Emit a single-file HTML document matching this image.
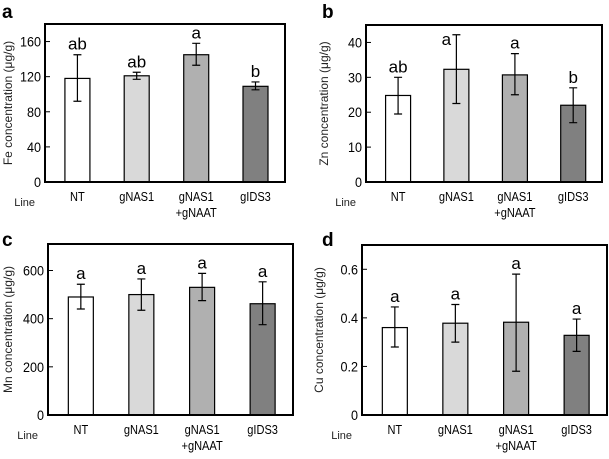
<!DOCTYPE html>
<html><head><meta charset="utf-8"><style>
body{margin:0;background:#fff;}
svg{display:block;font-family:"Liberation Sans",sans-serif;}
</style></head><body>
<svg id="c" width="609" height="459" viewBox="0 0 609 459"></svg>
<script>
const categories=["NT","gNAS1","gNAS1+gNAAT","gIDS3"];
const feVals=[118,121,145,109];
const feLo=[92,117,133,105];
const feHi=[145,125,158,114];
const feLetters=["ab","ab","a","b"];
const feTicks=[0,40,80,120,160];
const znVals=[24.8,32.3,30.7,22];
const znLo=[19.5,22.5,25,17];
const znHi=[30,42.2,36.8,27];
const znLetters=["ab","a","a","b"];
const znTicks=[0,10,20,30,40];
const mnVals=[490,500,530,462];
const mnLo=[440,435,475,375];
const mnHi=[543,565,588,553];
const mnLetters=["a","a","a","a"];
const mnTicks=[0,200,400,600];
const cuVals=[0.36,0.378,0.382,0.328];
const cuLo=[0.28,0.3,0.18,0.262];
const cuHi=[0.445,0.455,0.58,0.395];
const cuLetters=["a","a","a","a"];
const cuTickLabels=["0","0.2","0.4","0.6"];
const cuTicks=[0,0.2,0.4,0.6];
const fills=["#ffffff","#d9d9d9","#b0b0b0","#808080"];
const NS="http://www.w3.org/2000/svg";
const svg=document.getElementById('c');
function mk(t,a,p){const e=document.createElementNS(NS,t);for(const k in a)e.setAttribute(k,a[k]);(p||svg).appendChild(e);return e;}
function panel(o){
  const g=mk('g',{});
  
  
  const y=v=>o.y1-(v/o.max)*(o.y1-o.y0);
  const w=o.x1-o.x0;
  const offs=[0.083,0.33,0.578,0.825];
  const bw=25;
  const pl=mk('text',{x:o.lx,y:o.ly,'font-size':19,'font-weight':'bold'},g);pl.textContent=o.letter;
  
  o.vals.forEach((v,i)=>{
    const bx=o.x0+offs[i]*w;
    const r=mk('rect',{x:bx,y:y(v),width:bw,height:o.y1-y(v),fill:fills[i],stroke:'#000','stroke-width':1.2},g);
    
    
    const cx=bx+bw/2;
    const e=mk('path',{d:`M${cx},${y(o.lo[i])}V${y(o.hi[i])}M${cx-4},${y(o.lo[i])}H${cx+4}M${cx-4},${y(o.hi[i])}H${cx+4}`,stroke:'#000','stroke-width':1.2,fill:'none'},g);
    
    let ly=y(o.hi[i])-5, lx=cx;
    if(ly<o.y0+12){ly=o.y0+20;lx=cx-10;}
    const t=mk('text',{x:lx,y:ly,'font-size':17,'text-anchor':'middle'},g);t.textContent=o.letters[i];
    
    const parts=categories[i].split('+');
    const c1=mk('text',{x:cx,y:o.y1+19,'font-size':13,'text-anchor':'middle',transform:`translate(${cx},0) scale(0.85,1) translate(${-cx},0)`},g);c1.textContent=parts[0];
    
    if(parts[1]){const c2=mk('text',{x:cx,y:o.y1+35,'font-size':13,'text-anchor':'middle',transform:`translate(${cx},0) scale(0.85,1) translate(${-cx},0)`},g);c2.textContent='+'+parts[1];
      }
  });
  o.ticks.forEach((v,i)=>{
    mk('line',{x1:o.x0,x2:o.x0+5,y1:y(v),y2:y(v),stroke:'#000','stroke-width':1},g);
    const tx=o.x0-4;
    const t=mk('text',{x:tx,y:y(v)+5,'font-size':14,'text-anchor':'end',transform:`translate(${tx},0) scale(0.9,1) translate(${-tx},0)`},g);t.textContent=o.tickLabels?o.tickLabels[i]:v;
    
  });
  const box=mk('rect',{x:o.x0,y:o.y0,width:w,height:o.y1-o.y0,fill:'none',stroke:'#000','stroke-width':2},g);
  
  const yl=mk('text',{x:0,y:0,'font-size':12,'text-anchor':'middle',transform:`translate(${o.yx},${(o.y0+o.y1)/2}) rotate(-90)`,fill:'#222'},g);
  yl.textContent=o.ylabel+' (μg/g)';
  
  const ln=mk('text',{x:o.x0-10,y:o.y1+24,'font-size':11,'text-anchor':'end',fill:'#222'},g);ln.textContent='Line';
  
}
panel({name:'panel-a-fe',letter:'a',lx:2,ly:18,x0:45,x1:285,y0:24,y1:182,max:180,vals:feVals,lo:feLo,hi:feHi,letters:feLetters,ticks:feTicks,ylabel:'Fe concentration',yx:12});
panel({name:'panel-b-zn',letter:'b',lx:322,ly:18,x0:366,x1:602,y0:25,y1:182,max:45,vals:znVals,lo:znLo,hi:znHi,letters:znLetters,ticks:znTicks,ylabel:'Zn concentration',yx:328});
panel({name:'panel-c-mn',letter:'c',lx:2,ly:246,x0:48,x1:293,y0:244,y1:415,max:710,vals:mnVals,lo:mnLo,hi:mnHi,letters:mnLetters,ticks:mnTicks,ylabel:'Mn concentration',yx:12});
panel({name:'panel-d-cu',letter:'d',lx:322,ly:246,x0:362,x1:607,y0:245,y1:415,max:0.7,vals:cuVals,lo:cuLo,hi:cuHi,letters:cuLetters,ticks:cuTicks,tickLabels:cuTickLabels,ylabel:'Cu concentration',yx:323});
</script>
</body></html>
